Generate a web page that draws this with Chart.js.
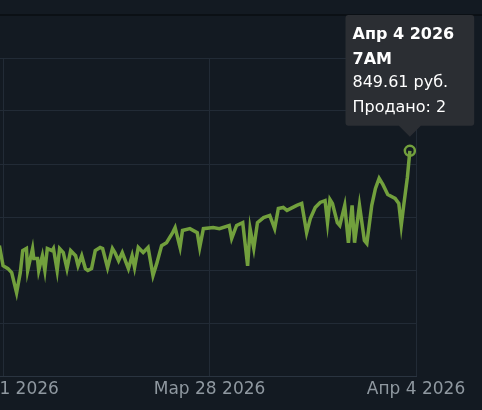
<!DOCTYPE html>
<html>
<head>
<meta charset="utf-8">
<script src="https://cdn.jsdelivr.net/npm/chart.js@4/dist/chart.umd.min.js"></script>
<style>
  html, body { margin: 0; padding: 0; background: #131a22; overflow: hidden; }
  #topLine { position: absolute; left: 0; top: 14px; width: 482px; height: 2px; background: #0b1015; }
  #priceHistory { position: absolute; left: 0; top: 0; }
</style>
</head>
<body>
<div id="topLine"></div>
<canvas id="priceHistory" width="482" height="410"></canvas>
<script>
// Horas desde el 21 de marzo 2026 00:00
const hours = [
  9, 12, 16, 19, 23, 26, 28, 31, 32, 36, 37, 40, 41, 44, 46, 48, 52, 53, 56, 58,
  61, 64, 67, 71, 73, 76, 79, 81, 84, 87, 91, 93, 97, 101, 103, 106, 109, 114, 117, 119,
  122, 126, 130, 134, 137, 141, 145, 150, 152, 156, 158, 164, 170, 172, 175, 183, 188, 196, 198, 202,
  207, 211, 213, 216, 219, 224, 229, 233, 236, 240, 243, 251, 255, 259, 262, 266, 270, 274, 276, 278,
  280, 284, 286, 290, 293, 296, 298, 302, 306, 308, 312, 315, 318, 321, 325, 331, 334, 336, 338, 341,
  343,
];
// Precio en rublos
const prices = [
  492, 416, 405, 390, 314, 390, 473, 481, 398, 481, 443, 443, 398, 454, 398, 481, 473, 481, 398, 481,
  466, 405, 473, 454, 416, 454, 405, 398, 405, 473, 485, 481, 409, 481, 466, 435, 466, 405, 454, 409,
  485, 466, 485, 379, 424, 492, 503, 541, 560, 485, 549, 556, 541, 485, 556, 560, 556, 568, 519, 568,
  579, 416, 556, 481, 579, 598, 606, 556, 632, 636, 625, 644, 651, 541, 594, 636, 655, 662, 579, 666,
  651, 579, 568, 644, 503, 644, 503, 644, 511, 500, 644, 708, 746, 723, 685, 670, 651, 568, 644, 750,
  849.61,
];
const tickHours = [12, 180, 348];
const tickLabels = ['Мар 21 2026', 'Мар 28 2026', 'Апр 4 2026'];
const hoverIndex = hours.length - 1;
const hoverSold = 2;

const lineColor = '#72a03d';

// Fecha del tooltip a partir de la hora
function hourTitle(h) {
  const day = 21 + Math.floor(h / 24);
  const date = day > 31 ? 'Апр ' + (day - 31) + ' 2026' : 'Мар ' + day + ' 2026';
  const hh = h % 24;
  let time;
  if (hh === 0) time = '12AM';
  else if (hh < 12) time = hh + 'AM';
  else if (hh === 12) time = '12PM';
  else time = (hh - 12) + 'PM';
  return [date, time];
}

function drawPriceChart() {
  const data = {
    datasets: [{
      label: 'Цена',
      data: hours.map((h, i) => ({x: h, y: prices[i]})),
      borderColor: lineColor,
      borderWidth: 3.5,
      tension: 0,
      pointRadius: (ctx) => ctx.dataIndex === hoverIndex ? 5 : 0,
      pointHoverRadius: (ctx) => ctx.dataIndex === hoverIndex ? 5 : 0,
      pointBorderWidth: 2.5,
      pointBorderColor: lineColor,
      pointBackgroundColor: 'rgba(0,0,0,0)',
    }],
  };
  const config = {
    type: 'line',
    data: data,
    options: {
      responsive: false,
      animation: false,
      events: [],
      layout: {
        autoPadding: false,
        padding: {left: 0, right: 66, top: 58, bottom: 7.6},
      },
      scales: {
        x: {
          type: 'linear',
          min: 9.5,
          max: 348,
          afterBuildTicks: (scale) => {
            scale.ticks = tickHours.map((v) => ({value: v}));
          },
          afterFit: (scale) => {
            scale.paddingLeft = 0;
            scale.paddingRight = 0;
          },
          grid: {color: '#222b36', drawTicks: false, tickLength: 0},
          border: {color: '#2a3440'},
          ticks: {
            autoSkip: false,
            maxRotation: 0,
            padding: 3,
            color: '#8f98a0',
            font: {family: 'DejaVu Sans', size: 17},
            callback: (value, i) => tickLabels[i],
          },
        },
        y: {
          min: 0,
          max: 1200,
          grid: {color: '#222b36', drawTicks: false, tickLength: 0},
          border: {display: false},
          ticks: {stepSize: 200, display: false, padding: 0},
        },
      },
      plugins: {
        legend: {display: false},
        tooltip: {
          xAlign: 'center',
          yAlign: 'bottom',
          backgroundColor: '#2b2e33',
          titleColor: '#ffffff',
          bodyColor: '#ffffff',
          titleFont: {family: 'DejaVu Sans', size: 16, weight: 'bold', lineHeight: 1.2},
          bodyFont: {family: 'DejaVu Sans', size: 16, lineHeight: 1.2},
          titleSpacing: 5.5,
          titleMarginBottom: 4.5,
          bodySpacing: 6,
          padding: {top: 10, bottom: 8, left: 7, right: 20},
          caretSize: 11,
          caretPadding: 14,
          cornerRadius: 3,
          displayColors: false,
          callbacks: {
            title: (items) => hourTitle(hours[items[0].dataIndex]),
            label: (item) => [prices[item.dataIndex].toFixed(2) + ' руб.', 'Продано: ' + hoverSold],
          },
        },
      },
    },
  };
  const chart = new Chart(
      document.getElementById('priceHistory'),
      config,
  );
  chart.tooltip.setActiveElements([{datasetIndex: 0, index: hoverIndex}], {x: 0, y: 0});
  chart.update();
}

drawPriceChart();
</script>
</body>
</html>
